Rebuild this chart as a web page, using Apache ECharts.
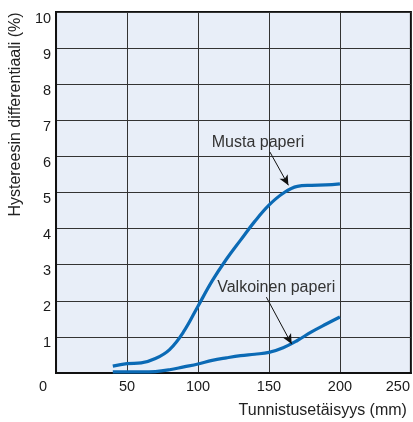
<!DOCTYPE html>
<html><head><meta charset="utf-8">
<script src="https://cdn.jsdelivr.net/npm/echarts@6/dist/echarts.min.js"></script>
<style>html,body{margin:0;padding:0;background:#fff}#c{width:413px;height:422px}</style>
</head><body><div id="c"></div>
<script>
// Data
const xTicks = [0, 50, 100, 150, 200, 250];
const yTicks = [0, 1, 2, 3, 4, 5, 6, 7, 8, 9, 10];
const mustaX = [40, 50, 60, 70, 80, 90, 100, 110, 120, 130, 140, 150, 160, 170, 180, 190, 200];
const mustaY = [0.19, 0.26, 0.28, 0.40, 0.65, 1.15, 1.85, 2.55, 3.15, 3.68, 4.20, 4.65, 4.98, 5.17, 5.20, 5.21, 5.24];
const valkoX = [40, 50, 60, 70, 80, 90, 100, 110, 120, 130, 140, 150, 160, 170, 180, 190, 200];
const valkoY = [0.03, 0.03, 0.03, 0.04, 0.09, 0.17, 0.25, 0.35, 0.42, 0.48, 0.52, 0.57, 0.70, 0.90, 1.14, 1.35, 1.55];
const seriesNames = ['Musta paperi', 'Valkoinen paperi'];
const labelAt = [[142.3, 6.39], [155.1, 2.37]];
const arrowFrom = [[150.7, 6.12], [148.2, 2.1]];
const arrowTo = [[163.7, 5.2], [166, 0.8]];
const xName = 'Tunnistusetäisyys (mm)';
const yName = 'Hystereesin differentiaali (%)';

const FONT = 'Liberation Sans, Arial, Helvetica, sans-serif';
const BLUE = '#0b6ab5';
const zip = (a, b) => a.map((v, i) => [v, b[i]]);

function ser(i, xs, ys) {
  return {
    name: seriesNames[i], type: 'line', smooth: 0.4, showSymbol: false,
    data: zip(xs, ys),
    lineStyle: {color: BLUE, width: 3.2}, itemStyle: {color: BLUE},
    markPoint: {
      silent: true, symbol: 'circle', symbolSize: 1,
      itemStyle: {color: 'rgba(0,0,0,0)'},
      label: {show: true, position: 'inside', formatter: seriesNames[i], color: '#333', fontSize: 16, fontFamily: FONT},
      data: [{coord: labelAt[i]}]
    },
    markLine: {
      silent: true, symbol: ['none', 'arrow'], symbolSize: [7, 10],
      lineStyle: {color: '#111', width: 1, type: 'solid'},
      label: {show: false},
      data: [[{coord: arrowFrom[i]}, {coord: arrowTo[i]}]]
    }
  };
}

const chart = echarts.init(document.getElementById('c'), null, {renderer: 'canvas'});
chart.setOption({
  animation: false,
  grid: {left: 51, right: -2, top: 12, bottom: 49, show: true, backgroundColor: '#e8eef8', borderColor: '#111', borderWidth: 2},
  xAxis: {
    type: 'value', min: xTicks[0], max: xTicks[xTicks.length - 1], interval: 50,
    name: xName, nameLocation: 'end', nameGap: -4,
    nameTextStyle: {align: 'right', verticalAlign: 'top', padding: [30, 0, 0, 0], fontSize: 16, color: '#222', fontFamily: FONT},
    axisLine: {show: true, lineStyle: {color: '#111', width: 2}},
    axisTick: {show: false},
    splitLine: {show: true, lineStyle: {color: '#333', width: 1}},
    axisLabel: {
      margin: 6, fontSize: 14.5, color: '#1a1a1a', fontFamily: FONT,
      formatter: v => v === xTicks[0] ? '{z|' + v + '}' : (v === xTicks[xTicks.length - 1] ? '{e|' + v + '}' : String(v)),
      rich: {
        z: {padding: [0, 26, 0, 0], fontSize: 14.5, color: '#1a1a1a', fontFamily: FONT},
        e: {padding: [0, 26, 0, 0], fontSize: 14.5, color: '#1a1a1a', fontFamily: FONT}
      }
    }
  },
  yAxis: {
    type: 'value', min: yTicks[0], max: yTicks[yTicks.length - 1], interval: 1,
    name: yName, nameLocation: 'middle', nameRotate: 90, nameGap: 27,
    nameTextStyle: {fontSize: 16, color: '#222', fontFamily: FONT, padding: [0, 0, 0, 156]},
    axisLine: {show: true, lineStyle: {color: '#111', width: 2}},
    axisTick: {show: false},
    splitLine: {show: true, lineStyle: {color: '#333', width: 1}},
    axisLabel: {
      margin: 5, fontSize: 14.5, color: '#1a1a1a', fontFamily: FONT, verticalAlign: 'top', lineHeight: 13,
      formatter: v => v === yTicks[0] ? '' : String(v)
    }
  },
  series: [ser(0, mustaX, mustaY), ser(1, valkoX, valkoY)]
});
</script></body></html>
